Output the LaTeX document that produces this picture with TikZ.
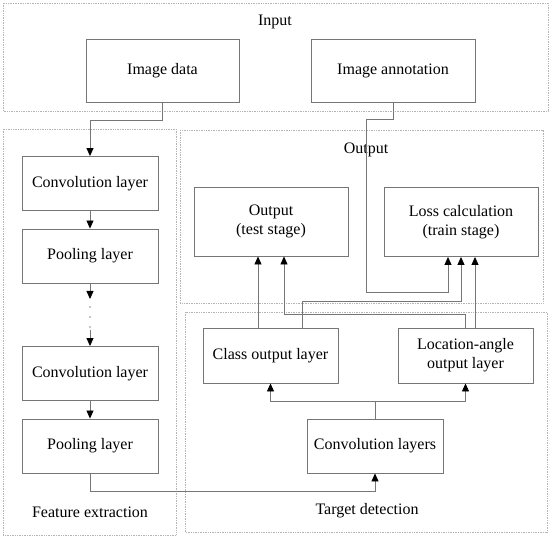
\documentclass[tikz,border=0pt]{standalone}
\usepackage{fontspec}
\setmainfont{Liberation Serif}
\usepackage{tikz}
\usetikzlibrary{positioning}
\usetikzlibrary{arrows.meta}
\usepackage{xcolor}

\definecolor{boxgray}{HTML}{767676}
\definecolor{areagray}{HTML}{B4B4B4}

\tikzset{
  layer/.style={draw=boxgray, line width=0.9pt, minimum width=136pt, minimum height=54pt,
    align=center, inner sep=2pt, font=\fontsize{16}{19}\selectfont},
  area/.style={draw=areagray, line width=0.7pt, densely dotted},
  areatitle/.style={font=\fontsize{16}{19}\selectfont},
  link/.style={draw=boxgray, line width=0.8pt},
  arr/.style={link, -{Triangle[length=8pt,width=7pt,color=black]}}
}

\begin{document}
\begin{tikzpicture}[x=1pt,y=-1pt]
\useasboundingbox (0,0) rectangle (550,537);

% areas
\draw[area] (3,3) rectangle (548,111);
\draw[area] (3,129) rectangle (176,535);
\draw[area] (180,130) rectangle (543,303);
\draw[area] (185,312) rectangle (547,532);

\node[areatitle] (tin) at (275,22) {Input};
\node[areatitle] (tfeat) at (90,512) {Feature extraction};
\node[areatitle] (tout) at (366,150) {Output};
\node[areatitle] (tdet) at (367,511) {Target detection};

% input
\node[layer, minimum width=153pt, minimum height=63pt] (imgdata) at (162.5,70.5) {Image data};
\node[layer, minimum width=164pt, minimum height=63pt] (imgann) at (393,70.5) {Image annotation};

% feature extraction
\node[layer] (conv1) at (90,183.5) {Convolution layer};
\node[layer] (pool1) at (90,256) {Pooling layer};
\node[layer] (conv2) at (90,373.5) {Convolution layer};
\node[layer] (pool2) at (90,446) {Pooling layer};

% output
\node[layer, minimum width=154pt, minimum height=69pt] (tst) at (271,221.5) {Output\\(test stage)};
\node[layer, minimum width=154pt, minimum height=69pt] (loss) at (461,222) {Loss calculation\\(train stage)};

% target detection
\node[layer, minimum width=135pt, minimum height=55pt] (cls) at (270.5,355.5) {Class output layer};
\node[layer, minimum width=135pt, minimum height=55pt] (loc) at (465.5,355.5) {Location-angle\\output layer};
\node[layer] (convs) at (375,446) {Convolution layers};

\coordinate (dotstop) at (90,299);
\coordinate (dotsbot) at (90,330);
\coordinate (annbend) at (366,292);

% connectors
\draw[arr] (imgdata.south) -- ++(0,18) -| (conv1.north);
\draw[arr] (conv1) -- (pool1);
\draw[arr] (pool1.south) -- (dotstop);
\draw[arr] (dotsbot) -- (conv2.north);
\draw[arr] (conv2) -- (pool2);
\foreach \y in {307,317,327}
  \fill[areagray] (90,\y) circle (1.1);

\draw[arr] (pool2.south) -- ++(0,18) -| (convs.south);
\draw[arr] (convs.north) -- ++(0,-17) -| (cls.south);
\draw[arr] (convs.north) -- ++(0,-17) -| (loc.south);

\draw[arr] ([xshift=-12.5pt]cls.north) -- ([xshift=-12.5pt]cls.north |- tst.south);
\draw[arr] ([xshift=31.5pt]cls.north) -- ++(0,-26) -| (loss.south);
\draw[arr] (loc.north) -- ++(0,-13) -| ([xshift=13pt]tst.south);
\draw[arr] ([xshift=9.5pt]loc.north) -- ([xshift=9.5pt]loc.north |- loss.south);

\draw[arr] (imgann.south) -- ++(0,17) -| (annbend) -| ([xshift=-13pt]loss.south);

\end{tikzpicture}
\end{document}
